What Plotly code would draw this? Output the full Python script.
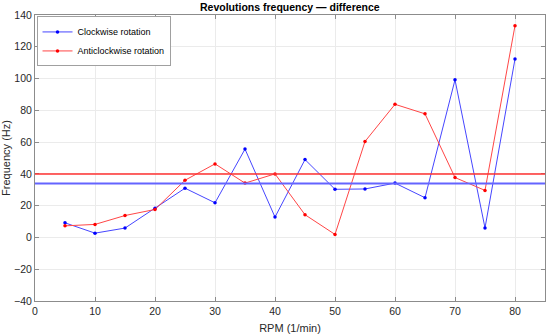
import plotly.graph_objects as go

rpm = [5, 10, 15, 20, 25, 30, 35, 40, 45, 50, 55, 60, 65, 70, 75, 80]
clockwise = [9.2, 2.7, 5.9, 18.4, 31.0, 21.8, 55.6, 12.8, 49.0, 30.3, 30.5, 34.2, 25.0, 99.2, 6.0, 112.3]
anticlockwise = [7.3, 8.2, 13.8, 17.6, 36.0, 46.3, 34.2, 40.0, 14.3, 1.9, 60.4, 83.8, 77.8, 37.7, 29.6, 133.3]
clockwise_mean = 34.0
anticlockwise_mean = 40.0

x_ticks = [0, 10, 20, 30, 40, 50, 60, 70, 80]
y_ticks = [-40, -20, 0, 20, 40, 60, 80, 100, 120, 140]

font = "Liberation Sans, Arial, sans-serif"

fig = go.Figure()
fig.add_trace(go.Scatter(x=rpm, y=clockwise, mode="lines+markers", name="Clockwise rotation",
                         line=dict(color="rgb(70,70,255)", width=1),
                         marker=dict(color="rgb(0,0,255)", size=3.5)))
fig.add_trace(go.Scatter(x=rpm, y=anticlockwise, mode="lines+markers", name="Anticlockwise rotation",
                         line=dict(color="rgb(255,70,70)", width=1),
                         marker=dict(color="rgb(255,0,0)", size=3.5)))

fig.add_hline(y=anticlockwise_mean, line=dict(color="rgb(255,50,50)", width=1.5))
fig.add_hline(y=clockwise_mean, line=dict(color="rgb(100,100,255)", width=2))

axis_common = dict(showline=True, linecolor="rgb(140,140,140)", linewidth=1, mirror="ticks",
                   ticks="inside", ticklen=4, tickcolor="rgb(140,140,140)",
                   showgrid=True, gridcolor="rgb(235,235,235)", gridwidth=1,
                   zeroline=False, automargin=False,
                   tickfont=dict(size=10.5, color="rgb(40,40,40)"))

fig.update_xaxes(range=[0, 85], tickvals=x_ticks,
                 title=dict(text="RPM (1/min)", font=dict(size=11, color="rgb(40,40,40)")),
                 **axis_common)
fig.update_yaxes(range=[-40, 140], tickvals=y_ticks,
                 title=dict(text="Frequency (Hz)", font=dict(size=11, color="rgb(40,40,40)")),
                 **axis_common)

fig.update_layout(
    width=550, height=334,
    margin=dict(l=35, r=5, t=15, b=33),
    paper_bgcolor="white", plot_bgcolor="white",
    font=dict(family=font, size=10.5, color="rgb(40,40,40)"),
    title=dict(text="<b>Revolutions frequency — difference</b>", x=0.527, xref="container",
               xanchor="center", y=1 - 7 / 334, yanchor="middle",
               font=dict(size=10.5, color="black")),
    legend=dict(x=0.003, y=0.995, xanchor="left", yanchor="top",
                bordercolor="rgb(160,160,160)", borderwidth=1, bgcolor="white",
                font=dict(size=9, color="black"), itemwidth=30, tracegroupgap=0),
    showlegend=True,
)

fig.write_html("out.html", config={"displayModeBar": False},
               post_script="document.body.style.margin='0';document.body.style.padding='0';")
